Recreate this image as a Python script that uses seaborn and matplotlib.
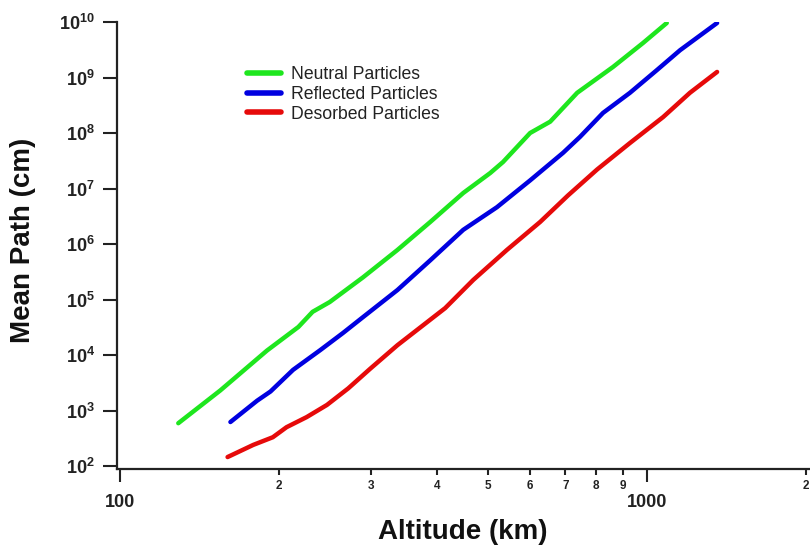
import matplotlib
matplotlib.use("Agg")
import matplotlib.pyplot as plt
import matplotlib.ticker as mticker
import seaborn as sns
import pandas as pd

# ---- data (altitude km, mean path cm) ----
neutral_alt = [129, 155, 190, 218, 232, 250, 289, 336, 388, 448, 504, 533, 600, 655, 737, 862, 983, 1090]
neutral_path = [5.9e2, 2.3e3, 1.2e4, 3.2e4, 6.0e4, 9.0e4, 2.5e5, 7.8e5, 2.5e6, 8.3e6, 1.9e7, 3.0e7,
                1.0e8, 1.6e8, 5.3e8, 1.55e9, 4.2e9, 9.6e9]

reflected_alt = [162, 182, 193, 213, 240, 265, 289, 336, 388, 448, 519, 600, 693, 746, 825, 928, 1044, 1155, 1358]
reflected_path = [6.2e2, 1.5e3, 2.2e3, 5.4e3, 1.23e4, 2.5e4, 4.8e4, 1.48e5, 5.1e5, 1.8e6, 4.6e6, 1.4e7,
                  4.4e7, 8.5e7, 2.3e8, 5.3e8, 1.36e9, 3.1e9, 9.6e9]

desorbed_alt = [160, 179, 195, 207, 226, 247, 271, 298, 336, 414, 468, 542, 627, 708, 804, 928, 1073, 1206, 1358]
desorbed_path = [1.45e2, 2.4e2, 3.3e2, 5.0e2, 7.6e2, 1.26e3, 2.5e3, 5.6e3, 1.5e4, 7.0e4, 2.25e5, 7.8e5,
                 2.5e6, 7.5e6, 2.2e7, 6.6e7, 1.94e8, 5.3e8, 1.26e9]

series_names = ["Neutral Particles", "Reflected Particles", "Desorbed Particles"]
series_colors = ["#1EE61E", "#0000E0", "#E60A0A"]

x_major_ticks = [100, 1000]
x_major_labels = ["100", "1000"]
x_minor_ticks = [200, 300, 400, 500, 600, 700, 800, 900, 2000]
x_minor_labels = ["2", "3", "4", "5", "6", "7", "8", "9", "2"]
y_ticks = [1e2, 1e3, 1e4, 1e5, 1e6, 1e7, 1e8, 1e9, 1e10]
y_tick_labels = [r"$\mathbf{10^{%d}}$" % e for e in range(2, 11)]

frames = []
for name, xs, ys in zip(series_names,
                        [neutral_alt, reflected_alt, desorbed_alt],
                        [neutral_path, reflected_path, desorbed_path]):
    frames.append(pd.DataFrame({"Altitude": xs, "Path": ys, "Series": name}))
df = pd.concat(frames, ignore_index=True)

sns.set_theme(style="white")
plt.rcParams["font.family"] = ["Liberation Sans", "DejaVu Sans"]
plt.rcParams["mathtext.fontset"] = "custom"
plt.rcParams["mathtext.rm"] = "Liberation Sans"
plt.rcParams["mathtext.bf"] = "Liberation Sans:bold"

fig = plt.figure(figsize=(8.10, 5.48), dpi=100)
W, H = 810, 548
ax = fig.add_axes([117 / W, (H - 469) / H, (810 - 117) / W, (469 - 22) / H])

sns.lineplot(data=df, x="Altitude", y="Path", hue="Series", hue_order=series_names,
             palette=series_colors, sort=False, estimator=None, linewidth=3.2, ax=ax,
             legend=True)

ax.set_xscale("log")
ax.set_yscale("log")
ax.set_xlim(98.7, 2038)
ax.set_ylim(88.3, 1e10)

for s in ["top", "right"]:
    ax.spines[s].set_visible(False)
for s in ["left", "bottom"]:
    ax.spines[s].set_color("#222222")
    ax.spines[s].set_linewidth(1.6)

ax.xaxis.set_major_locator(mticker.FixedLocator(x_major_ticks))
ax.xaxis.set_major_formatter(mticker.FixedFormatter(x_major_labels))
ax.xaxis.set_minor_locator(mticker.FixedLocator(x_minor_ticks))
ax.xaxis.set_minor_formatter(mticker.FixedFormatter(x_minor_labels))
ax.yaxis.set_major_locator(mticker.FixedLocator(y_ticks))
ax.yaxis.set_major_formatter(mticker.FixedFormatter(y_tick_labels))
ax.yaxis.set_minor_locator(mticker.NullLocator())

ax.tick_params(axis="x", which="major", direction="out", length=9.5, width=1.5,
               color="#222222", pad=8.5, labelsize=13, bottom=True)
ax.tick_params(axis="x", which="minor", direction="out", length=4.5, width=1.5,
               color="#222222", pad=3.5, labelsize=8.5, bottom=True)
ax.tick_params(axis="y", which="major", direction="out", length=10, width=1.5,
               color="#222222", pad=6, labelsize=13, left=True)
for lab in ax.get_xticklabels(which="both"):
    lab.set_fontweight("bold")
    lab.set_color("#222222")
for lab in ax.get_yticklabels():
    lab.set_color("#222222")

ax.set_xlabel("Altitude (km)", fontsize=20, fontweight="bold", color="#111111", va="center")
ax.xaxis.set_label_coords(0.499, (469 - 532) / (469 - 22))
ax.set_ylabel("Mean Path (cm)", fontsize=20, fontweight="bold", color="#111111", va="center")
ax.yaxis.set_label_coords((23 - 117) / (810 - 117), (469 - 240) / (469 - 22))

handles, labels = ax.get_legend_handles_labels()
leg = ax.legend(handles, labels, loc="upper left", bbox_to_anchor=(247 / W, 1 - 66 / H),
                bbox_transform=fig.transFigure, frameon=False, fontsize=12.7,
                handlelength=1.95, handletextpad=0.55, labelspacing=0.16,
                borderpad=0, borderaxespad=0)
for line in leg.get_lines():
    line.set_linewidth(4)
for t in leg.get_texts():
    t.set_color("#222222")

fig.savefig("out.png", dpi=100)
